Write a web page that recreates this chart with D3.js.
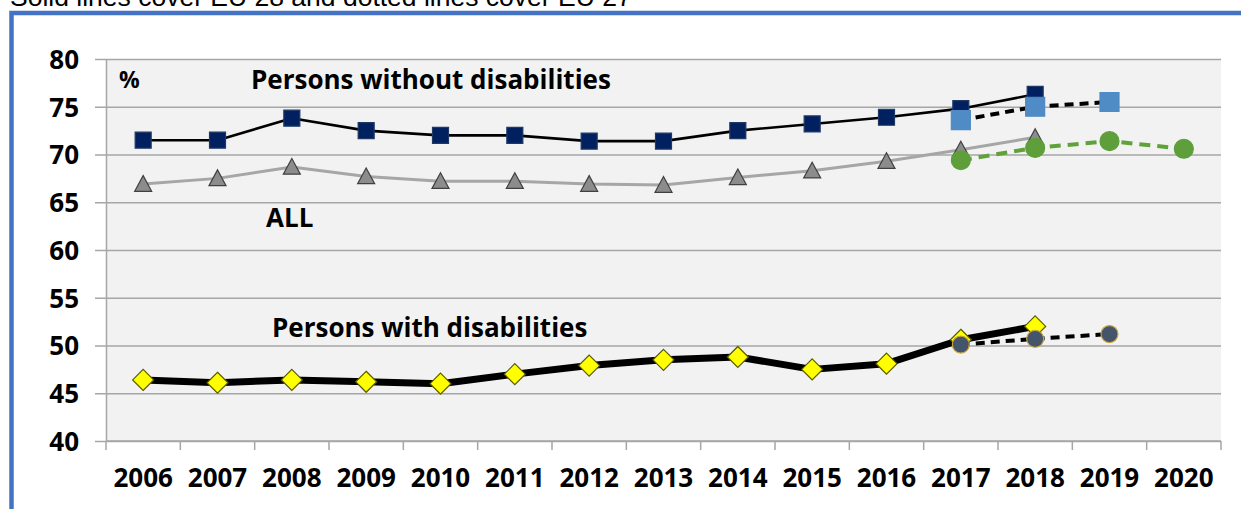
<!DOCTYPE html>
<html>
<head>
<meta charset="utf-8">
<script src="https://cdn.jsdelivr.net/npm/d3@7"></script>
<style>
  body { margin: 0; background: #fff; overflow: hidden; }
  svg { display: block; }
  .lbl { font-family: "Open Sans", Lato, sans-serif; font-weight: bold; fill: #000; }
</style>
</head>
<body>
<div id="chart"></div>
<script>
// years on the x axis
var years = ["2006","2007","2008","2009","2010","2011","2012","2013","2014","2015","2016","2017","2018","2019","2020"];
var yTicks = [40, 45, 50, 55, 60, 65, 70, 75, 80];

// EU 28 (solid lines)
var withoutYears = ["2006","2007","2008","2009","2010","2011","2012","2013","2014","2015","2016","2017","2018"];
var withoutEU28 = [71.5, 71.5, 73.8, 72.5, 72.0, 72.0, 71.4, 71.4, 72.5, 73.2, 73.9, 74.8, 76.3];
var allEU28     = [66.9, 67.5, 68.7, 67.7, 67.2, 67.2, 66.9, 66.8, 67.6, 68.3, 69.3, 70.5, 71.8];
var withEU28    = [46.4, 46.1, 46.4, 46.2, 46.0, 47.0, 47.9, 48.5, 48.8, 47.5, 48.1, 50.6, 52.0];

// EU 27 (dotted lines)
var eu27Years = ["2017","2018","2019"];
var withoutEU27 = [73.6, 75.0, 75.5];
var withEU27    = [50.1, 50.7, 51.2];
var allEU27Years = ["2017","2018","2019","2020"];
var allEU27     = [69.4, 70.7, 71.4, 70.6];

var width = 1241, height = 509;
var margins = { top: 59, right: 20, bottom: 68, left: 106 };

var svg = d3.select('#chart').append('svg')
  .attr('width', width)
  .attr('height', height);

// blue frame
svg.append('path')
  .attr('d', 'M11.5,509 V13 H1241')
  .attr('fill', 'none')
  .attr('stroke', '#4472c4')
  .attr('stroke-width', 4.5);

// caption, cut off at the top as in the source
svg.append('text')
  .attr('x', 10)
  .attr('y', 6)
  .attr('font-family', '"Liberation Sans", Arial, sans-serif')
  .attr('font-size', 26.5)
  .attr('fill', '#000')
  .text('Solid lines cover EU 28 and dotted lines cover EU 27');

var x = d3.scaleBand()
  .domain(years)
  .range([margins.left, width - margins.right])
  .paddingInner(0).paddingOuter(0);

var y = d3.scaleLinear()
  .domain([40, 80])
  .range([height - margins.bottom, margins.top]);

var cx = function(d) { return x(d) + x.bandwidth() / 2; };

// plot background
svg.append('rect')
  .attr('x', x.range()[0])
  .attr('y', y(80))
  .attr('width', x.range()[1] - x.range()[0])
  .attr('height', y(40) - y(80))
  .attr('fill', '#f2f2f2');

// horizontal grid lines + y labels
var yAxis = d3.axisLeft(y)
  .tickValues(yTicks)
  .tickSize(-(x.range()[1] - x.range()[0]))
  .tickSizeOuter(0)
  .tickPadding(27);

var gy = svg.append('g')
  .attr('transform', 'translate(' + margins.left + ',0)')
  .call(yAxis);
gy.select('.domain').attr('stroke', '#a6a6a6').attr('stroke-width', 1.5);
gy.selectAll('.tick line').attr('stroke', '#a6a6a6').attr('stroke-width', 1.5)
  .attr('x1', -11);
gy.selectAll('.tick text')
  .attr('class', 'lbl')
  .attr('font-size', 26)
  .attr('dy', '0.36em');

// x axis with ticks on the band edges
var gx = svg.append('g')
  .attr('transform', 'translate(0,' + y(40) + ')');
gx.append('line')
  .attr('x1', x.range()[0]).attr('x2', x.range()[1])
  .attr('stroke', '#a6a6a6').attr('stroke-width', 1.5);
gx.selectAll('line.edge')
  .data(years.concat(['end']))
  .enter().append('line')
  .attr('class', 'edge')
  .attr('x1', function(d) { return d === 'end' ? x.range()[1] : x(d); })
  .attr('x2', function(d) { return d === 'end' ? x.range()[1] : x(d); })
  .attr('y1', 0).attr('y2', 9)
  .attr('stroke', '#a6a6a6').attr('stroke-width', 1.5);
gx.selectAll('text')
  .data(years)
  .enter().append('text')
  .attr('class', 'lbl')
  .attr('x', cx)
  .attr('y', 46)
  .attr('text-anchor', 'middle')
  .attr('font-size', 26)
  .text(function(d) { return d; });

var line = function(ys, vals) {
  return d3.line()
    .x(function(d, i) { return cx(ys[i]); })
    .y(function(d) { return y(d); })(vals);
};

var shapes = {
  square: function(s) { var h = s / 2; return 'M' + (-h) + ',' + (-h) + 'h' + s + 'v' + s + 'h' + (-s) + 'Z'; },
  triangle: function(s) { var h = s / 2; return 'M0,' + (-h) + 'L' + h + ',' + (h * 0.85) + 'L' + (-h) + ',' + (h * 0.85) + 'Z'; },
  diamond: function(s) { var h = s / 2; return 'M0,' + (-h) + 'L' + h + ',0L0,' + h + 'L' + (-h) + ',0Z'; }
};

function series(ys, vals, o) {
  svg.append('path')
    .attr('d', line(ys, vals))
    .attr('fill', 'none')
    .attr('stroke', o.stroke)
    .attr('stroke-width', o.width)
    .attr('stroke-dasharray', o.dash || null)
    .attr('stroke-linejoin', 'round');
  var g = svg.append('g');
  var pts = g.selectAll('.m').data(vals).enter();
  if (o.shape === 'circle') {
    pts.append('circle')
      .attr('cx', function(d, i) { return cx(ys[i]); })
      .attr('cy', function(d) { return y(d); })
      .attr('r', o.size / 2)
      .attr('fill', o.fill)
      .attr('stroke', o.mstroke)
      .attr('stroke-width', 1.2);
  } else {
    pts.append('path')
      .attr('d', shapes[o.shape](o.size))
      .attr('transform', function(d, i) { return 'translate(' + cx(ys[i]) + ',' + y(d) + ')'; })
      .attr('fill', o.fill)
      .attr('stroke', o.mstroke)
      .attr('stroke-width', 1.2);
  }
}

// ALL
series(withoutYears, allEU28, { stroke: '#a6a6a6', width: 3, shape: 'triangle', size: 17, fill: '#8c8c8c', mstroke: '#404040' });
series(allEU27Years, allEU27, { stroke: '#5fa23a', width: 4, dash: '11,7', shape: 'circle', size: 19, fill: '#5f9f3b', mstroke: '#5f9f3b' });

// without disabilities
series(withoutYears, withoutEU28, { stroke: '#000', width: 2.6, shape: 'square', size: 16, fill: '#002060', mstroke: '#1f3864' });
series(eu27Years, withoutEU27, { stroke: '#000', width: 4, dash: '9,6', shape: 'square', size: 19, fill: '#4f8bc4', mstroke: '#4f8bc4' });

// with disabilities
series(withoutYears, withEU28, { stroke: '#000', width: 7, shape: 'diamond', size: 21, fill: '#ffff00', mstroke: '#5a5a00' });
series(eu27Years, withEU27, { stroke: '#000', width: 4, dash: '9,6', shape: 'circle', size: 17, fill: '#44546a', mstroke: '#c9a43a' });

// in-plot labels
svg.append('text').attr('class', 'lbl').attr('x', 119).attr('y', 88).attr('font-size', 23).text('%');
svg.append('text').attr('class', 'lbl').attr('x', 251).attr('y', 89).attr('font-size', 26).text('Persons without disabilities');
svg.append('text').attr('class', 'lbl').attr('x', 266).attr('y', 227).attr('font-size', 26).text('ALL');
svg.append('text').attr('class', 'lbl').attr('x', 272).attr('y', 337).attr('font-size', 26).text('Persons with disabilities');
</script>
</body>
</html>
